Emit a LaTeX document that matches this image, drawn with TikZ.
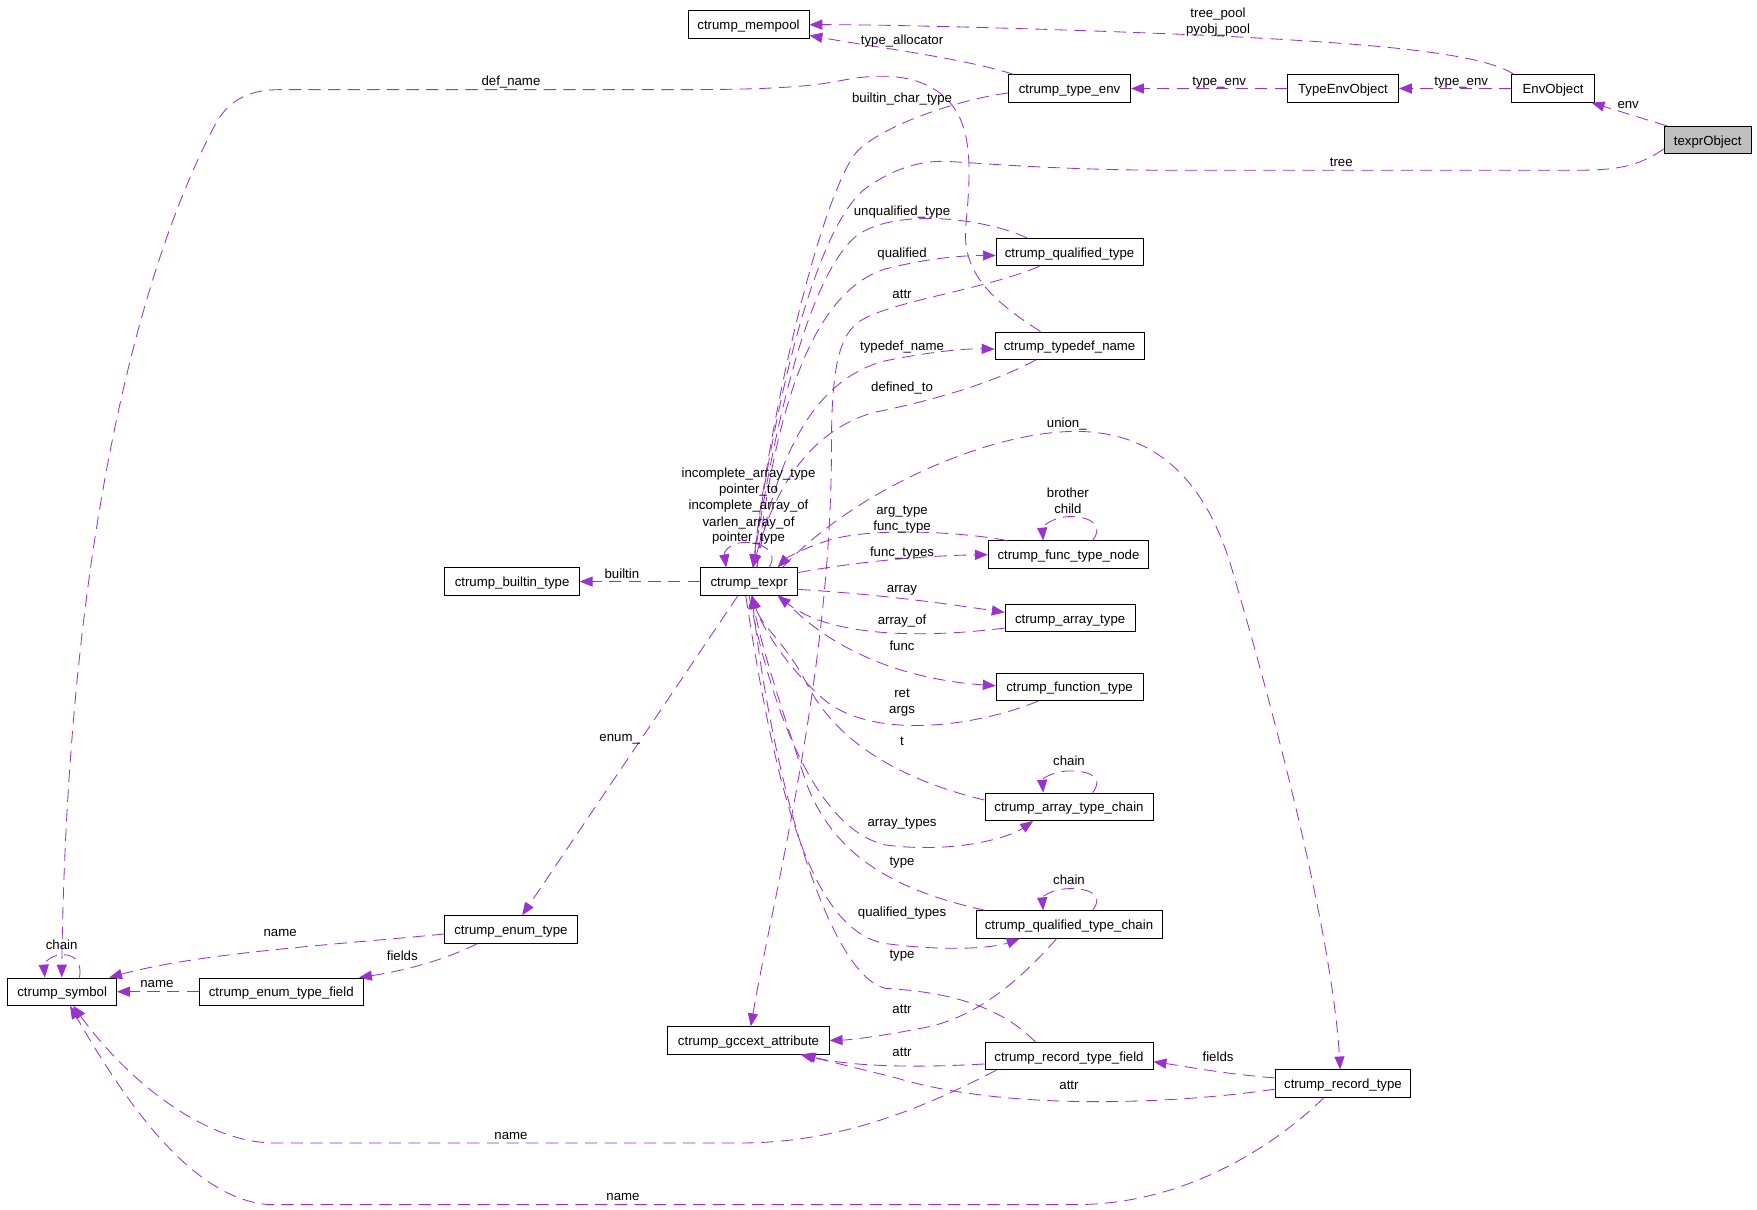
\documentclass[tikz,border=0pt]{standalone}
\usepackage{fontspec}
\setmainfont{Liberation Sans}
\usetikzlibrary{arrows.meta}
\definecolor{purp}{HTML}{9A32CD}
\definecolor{selgray}{HTML}{BFBFBF}
\begin{document}
\begin{tikzpicture}[x=1pt,y=-1pt,
  box/.style={draw=black,line width=0.8pt,minimum height=24.5pt,inner sep=0pt,
    font=\fontsize{11.8}{13}\selectfont,text=black,text height=10pt,text depth=1pt},
  edge/.style={draw=purp,line width=0.75pt,dash pattern=on 11pt off 6.5pt,
    -{Triangle[length=11.5pt,width=9pt,fill=purp]}},
  lbl/.style={font=\fontsize{11.8}{13}\selectfont,text=black,inner sep=0pt,
    text height=10pt,text depth=1pt}]
\fill[white] (0,0) rectangle (1568,1079);
\useasboundingbox (0,0) rectangle (1568,1079);

% nodes
\node[box,minimum width=108pt] (mempool) at (668,22) {ctrump\_mempool};
\node[box,minimum width=109pt] (typeenv) at (954.5,79) {ctrump\_type\_env};
\node[box,minimum width=99pt] (teo) at (1198.5,79) {TypeEnvObject};
\node[box,minimum width=74pt] (envobj) at (1386,79) {EnvObject};
\node[box,minimum width=78pt,fill=selgray] (texprobj) at (1524,125) {texprObject};
\node[box,minimum width=131pt] (qualtype) at (954.5,225) {ctrump\_qualified\_type};
\node[box,minimum width=133pt] (typedef) at (954.5,308.5) {ctrump\_typedef\_name};
\node[box,minimum width=143pt] (ftnode) at (953.5,495) {ctrump\_func\_type\_node};
\node[box,minimum width=87pt] (texpr) at (668.5,519) {ctrump\_texpr};
\node[box,minimum width=120pt] (builtin) at (457,519) {ctrump\_builtin\_type};
\node[box,minimum width=116pt] (arrtype) at (955,551.5) {ctrump\_array\_type};
\node[box,minimum width=131pt] (functype) at (954.5,613) {ctrump\_function\_type};
\node[box,minimum width=150pt] (atchain) at (954,720) {ctrump\_array\_type\_chain};
\node[box,minimum width=166pt] (qtchain) at (954,825) {ctrump\_qualified\_type\_chain};
\node[box,minimum width=118pt] (enumtype) at (456,829.5) {ctrump\_enum\_type};
\node[box,minimum width=97pt] (symbol) at (55.5,885) {ctrump\_symbol};
\node[box,minimum width=146pt] (enumfield) at (251,885) {ctrump\_enum\_type\_field};
\node[box,minimum width=144pt] (gccext) at (668,928.5) {ctrump\_gccext\_attribute};
\node[box,minimum width=150pt] (rtfield) at (954,942.5) {ctrump\_record\_type\_field};
\node[box,minimum width=121pt] (rectype) at (1198.5,967) {ctrump\_record\_type};

% edges
\draw[edge] ([xshift=-35pt]envobj.north) .. controls (1320,45) and (1200,38) .. (1087,32) .. controls (950,26) and (800,22) .. (mempool.east);
\draw[edge] ([xshift=-50pt]typeenv.north) .. controls (860,52) and (780,42) .. ([yshift=3pt]mempool.south east);
\draw[edge] (teo.west) -- (typeenv.east);
\draw[edge] (envobj.west) -- (teo.east);
\draw[edge] ([xshift=3pt]texprobj.north west) -- ([xshift=-3pt]envobj.south east);
\draw[edge] ([yshift=-8pt]texprobj.west) .. controls (1460,150) and (1440,152) .. (1400,152) -- (1053,152) .. controls (950,152) and (880,146) .. (845,144) .. controls (815,143) and (790,155) .. (770,170) .. controls (720,215) and (685,400) .. ([xshift=3.5pt]texpr.north);
\draw[edge] ([yshift=-4pt]typeenv.west) .. controls (860,88) and (790,110) .. (765,135) .. controls (735,170) and (690,350) .. ([xshift=3.5pt]texpr.north);
\draw[edge] ([xshift=-26pt]typedef.north) .. controls (880,265) and (858,240) .. (862,200) .. controls (868,140) and (866,105) .. (840,84) .. controls (820,68) and (790,64) .. (750,72) .. controls (720,78) and (680,80) .. (607,80) -- (250,80) .. controls (215,80) and (200,95) .. (190,115) .. controls (120,250) and (60,500) .. ([xshift=-0.5pt]symbol.north);
\draw[edge] ([xshift=-38pt]qualtype.north) .. controls (880,195) and (800,185) .. (765,210) .. controls (715,250) and (685,420) .. ([xshift=3.5pt]texpr.north);
\draw[edge] ([xshift=7pt]texpr.north) .. controls (690,380) and (720,262) .. (790,240) .. controls (830,230) and (860,228) .. ([yshift=-3pt]qualtype.west);
\draw[edge] ([xshift=-27pt]qualtype.south) .. controls (880,258) and (800,268) .. (770,285) .. controls (748,297) and (742,330) .. (742,400) .. controls (742,600) and (690,800) .. ([xshift=2pt]gccext.north);
\draw[edge] ([xshift=7pt]texpr.north) .. controls (690,420) and (720,340) .. (790,322) .. controls (830,314) and (860,311) .. ([yshift=-3pt]typedef.west);
\draw[edge] ([xshift=-30pt]typedef.south) .. controls (880,345) and (820,360) .. (780,368) .. controls (720,385) and (690,440) .. ([xshift=3.5pt]texpr.north);
\draw[edge] ([xshift=30pt]texpr.north) .. controls (760,440) and (880,385) .. (960,385) .. controls (1040,385) and (1080,440) .. (1100,510) .. controls (1150,680) and (1190,850) .. ([xshift=-2.5pt]rectype.north);
\draw[edge] ([xshift=18pt]texpr.north) .. controls (695,492) and (680,484) .. (665,484) .. controls (652,484) and (646,492) .. ([xshift=-20.5pt]texpr.north);
\draw[edge] ([xshift=-55pt]ftnode.north) .. controls (860,475) and (780,470) .. (740,482) .. controls (715,490) and (702,498) .. ([xshift=25.5pt]texpr.north);
\draw[edge] ([yshift=8pt]texpr.east) .. controls (760,502) and (820,496) .. (ftnode.west);
\draw[edge] ([xshift=21.5pt]ftnode.north) .. controls (985,470) and (975,461) .. (955,461) .. controls (940,461) and (930,470) .. ([xshift=-22.5pt]ftnode.north);
\draw[edge] (texpr.west) -- (builtin.east);
\draw[edge] ([yshift=-7pt]texpr.east) .. controls (780,530) and (840,538) .. ([yshift=5pt]arrtype.west);
\draw[edge] ([yshift=-9pt]arrtype.west) .. controls (820,570) and (740,568) .. ([xshift=25.5pt]texpr.south);
\draw[edge] ([xshift=28pt]texpr.south) .. controls (730,570) and (790,605) .. ([yshift=1pt]functype.west);
\draw[edge] ([xshift=-28pt]functype.south) .. controls (880,645) and (790,662) .. (740,628) .. controls (705,600) and (680,560) .. ([xshift=2.5pt]texpr.south);
\draw[edge] ([yshift=6pt]atchain.west) .. controls (800,695) and (745,660) .. (720,610) .. controls (700,572) and (680,560) .. ([xshift=2.5pt]texpr.south);
\draw[edge] ([xshift=21pt]atchain.north) .. controls (985,695) and (975,688) .. (955,688) .. controls (940,688) and (930,695) .. ([xshift=-23pt]atchain.north);
\draw[edge] (texpr.south) .. controls (690,640) and (730,740) .. (790,754) .. controls (850,762) and (900,748) .. ([xshift=-32pt]atchain.south);
\draw[edge] ([xshift=-75pt]qtchain.north) .. controls (800,795) and (745,765) .. (720,700) .. controls (700,640) and (680,580) .. ([xshift=2.5pt]texpr.south);
\draw[edge] ([xshift=21pt]qtchain.north) .. controls (985,800) and (975,793) .. (955,793) .. controls (940,793) and (930,800) .. ([xshift=-23pt]qtchain.north);
\draw[edge] ([xshift=-3pt]texpr.south) .. controls (690,690) and (720,830) .. (790,842) .. controls (850,850) and (890,845) .. ([xshift=-44pt]qtchain.south);
\draw[edge] ([xshift=-11pt]qtchain.south) .. controls (910,875) and (870,910) .. (820,918) .. controls (790,924) and (760,928) .. (gccext.east);
\draw[edge] ([xshift=-30pt]rtfield.north) .. controls (890,895) and (840,885) .. (790,882) .. controls (740,870) and (690,700) .. ([xshift=2.5pt]texpr.south);
\draw[edge] ([yshift=-7pt]rtfield.west) .. controls (820,953) and (760,952) .. ([xshift=-24pt]gccext.south east);
\draw[edge] ([xshift=-65pt]rtfield.south) .. controls (840,980) and (760,1020) .. (662,1020) -- (245,1020) .. controls (180,1020) and (110,960) .. ([xshift=10pt]symbol.south);
\draw[edge] ([yshift=5pt]rectype.west) .. controls (1090,958) and (1060,952) .. ([yshift=-5pt]rtfield.east);
\draw[edge] ([yshift=-5pt]rectype.west) .. controls (1050,985) and (900,992) .. (800,962) .. controls (760,952) and (735,946) .. ([xshift=-26pt]gccext.south east);
\draw[edge] ([xshift=-17pt]rectype.south) .. controls (1140,1020) and (1060,1075) .. (960,1075) -- (240,1075) .. controls (170,1070) and (110,980) .. ([xshift=7pt]symbol.south);
\draw[edge] ([xshift=-10pt]texpr.south) -- ([xshift=10pt]enumtype.north);
\draw[edge] ([yshift=-4pt]enumtype.west) .. controls (300,843) and (180,850) .. ([xshift=-7pt]symbol.north east);
\draw[edge] ([xshift=-30pt]enumtype.south) .. controls (390,860) and (350,868) .. ([xshift=-4pt]enumfield.north east);
\draw[edge] (enumfield.west) -- (symbol.east);
\draw[edge] ([xshift=15.5pt]symbol.north) .. controls (73,860) and (68,852) .. (56,852) .. controls (45,852) and (39,860) .. ([xshift=-15.5pt]symbol.north);

% labels
\node[lbl] (l1a) at (1087,11) {tree\_pool};
\node[lbl] (l1b) at (1087,25) {pyobj\_pool};
\node[lbl] (l2) at (805,35) {type\_allocator};
\node[lbl] (l3) at (1088,72) {type\_env};
\node[lbl] (l4) at (1304,72) {type\_env};
\node[lbl] (l5) at (1453,92) {env};
\node[lbl] (l6) at (1197,144) {tree};
\node[lbl] (l7) at (805,87) {builtin\_char\_type};
\node[lbl] (l8) at (456,72) {def\_name};
\node[lbl] (l9) at (805,188) {unqualified\_type};
\node[lbl] (l10) at (805,225) {qualified};
\node[lbl] (l11) at (805,262) {attr};
\node[lbl] (l12) at (805,308) {typedef\_name};
\node[lbl] (l13) at (805,345) {defined\_to};
\node[lbl] (l14) at (952,377) {union\_};
\node[lbl] (l15a) at (668,421.5) {incomplete\_array\_type};
\node[lbl] (l15b) at (668,436) {pointer\_to};
\node[lbl] (l15c) at (668,450.5) {incomplete\_array\_of};
\node[lbl] (l15d) at (668,465) {varlen\_array\_of};
\node[lbl] (l15e) at (668,479) {pointer\_type};
\node[lbl] (l16a) at (805,455) {arg\_type};
\node[lbl] (l16b) at (805,469) {func\_type};
\node[lbl] (l17) at (805,492) {func\_types};
\node[lbl] (l18a) at (953,439.5) {brother};
\node[lbl] (l18b) at (953,454) {child};
\node[lbl] (l19) at (555,512) {builtin};
\node[lbl] (l20) at (805,524) {array};
\node[lbl] (l21) at (805,553) {array\_of};
\node[lbl] (l22) at (805,576) {func};
\node[lbl] (l23a) at (805,618) {ret};
\node[lbl] (l23b) at (805,632.5) {args};
\node[lbl] (l24) at (805,661) {t};
\node[lbl] (l25) at (954,679) {chain};
\node[lbl] (l26) at (805,733) {array\_types};
\node[lbl] (l27) at (805,768) {type};
\node[lbl] (l28) at (954,785) {chain};
\node[lbl] (l29) at (805,813) {qualified\_types};
\node[lbl] (l31) at (805,851) {type};
\node[lbl] (l30) at (805,900) {attr};
\node[lbl] (l32) at (805,938) {attr};
\node[lbl] (l34) at (1087,943) {fields};
\node[lbl] (l35) at (954,968) {attr};
\node[lbl] (l33) at (456,1012) {name};
\node[lbl] (l36) at (556,1067) {name};
\node[lbl] (l37) at (553,657) {enum\_};
\node[lbl] (l38) at (250,831) {name};
\node[lbl] (l39) at (359,853) {fields};
\node[lbl] (l40) at (140,877) {name};
\node[lbl] (l41) at (55,843) {chain};
\end{tikzpicture}
\end{document}
